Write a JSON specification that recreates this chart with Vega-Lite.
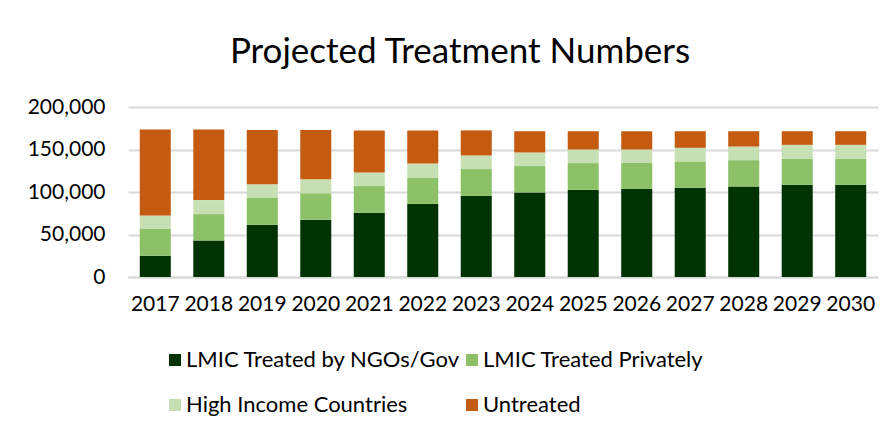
{
  "$schema": "https://vega.github.io/schema/vega-lite/v6.json",
  "width": 750,
  "height": 170,
  "autosize": "none",
  "padding": {"left": 128, "top": 107, "right": 18, "bottom": 158},
  "background": "white",
  "title": {
    "text": "Projected Treatment Numbers",
    "font": "Lato",
    "fontSize": 35,
    "fontWeight": "normal",
    "color": "#000000",
    "anchor": "middle",
    "dx": -43,
    "offset": 26
  },
  "data": {
    "values": [
      {"year": "2017", "category": "LMIC Treated by NGOs/Gov", "k": 1, "value": 25000},
      {"year": "2017", "category": "LMIC Treated Privately", "k": 2, "value": 31500},
      {"year": "2017", "category": "High Income Countries", "k": 3, "value": 16000},
      {"year": "2017", "category": "Untreated", "k": 4, "value": 101000},
      {"year": "2018", "category": "LMIC Treated by NGOs/Gov", "k": 1, "value": 43000},
      {"year": "2018", "category": "LMIC Treated Privately", "k": 2, "value": 31000},
      {"year": "2018", "category": "High Income Countries", "k": 3, "value": 16500},
      {"year": "2018", "category": "Untreated", "k": 4, "value": 83000},
      {"year": "2019", "category": "LMIC Treated by NGOs/Gov", "k": 1, "value": 61500},
      {"year": "2019", "category": "LMIC Treated Privately", "k": 2, "value": 31500},
      {"year": "2019", "category": "High Income Countries", "k": 3, "value": 16000},
      {"year": "2019", "category": "Untreated", "k": 4, "value": 64000},
      {"year": "2020", "category": "LMIC Treated by NGOs/Gov", "k": 1, "value": 67500},
      {"year": "2020", "category": "LMIC Treated Privately", "k": 2, "value": 31000},
      {"year": "2020", "category": "High Income Countries", "k": 3, "value": 16500},
      {"year": "2020", "category": "Untreated", "k": 4, "value": 58000},
      {"year": "2021", "category": "LMIC Treated by NGOs/Gov", "k": 1, "value": 75500},
      {"year": "2021", "category": "LMIC Treated Privately", "k": 2, "value": 31500},
      {"year": "2021", "category": "High Income Countries", "k": 3, "value": 16000},
      {"year": "2021", "category": "Untreated", "k": 4, "value": 49500},
      {"year": "2022", "category": "LMIC Treated by NGOs/Gov", "k": 1, "value": 86000},
      {"year": "2022", "category": "LMIC Treated Privately", "k": 2, "value": 31000},
      {"year": "2022", "category": "High Income Countries", "k": 3, "value": 16500},
      {"year": "2022", "category": "Untreated", "k": 4, "value": 39000},
      {"year": "2023", "category": "LMIC Treated by NGOs/Gov", "k": 1, "value": 95500},
      {"year": "2023", "category": "LMIC Treated Privately", "k": 2, "value": 31500},
      {"year": "2023", "category": "High Income Countries", "k": 3, "value": 16000},
      {"year": "2023", "category": "Untreated", "k": 4, "value": 29500},
      {"year": "2024", "category": "LMIC Treated by NGOs/Gov", "k": 1, "value": 99500},
      {"year": "2024", "category": "LMIC Treated Privately", "k": 2, "value": 31000},
      {"year": "2024", "category": "High Income Countries", "k": 3, "value": 16000},
      {"year": "2024", "category": "Untreated", "k": 4, "value": 25000},
      {"year": "2025", "category": "LMIC Treated by NGOs/Gov", "k": 1, "value": 102500},
      {"year": "2025", "category": "LMIC Treated Privately", "k": 2, "value": 31500},
      {"year": "2025", "category": "High Income Countries", "k": 3, "value": 16000},
      {"year": "2025", "category": "Untreated", "k": 4, "value": 21500},
      {"year": "2026", "category": "LMIC Treated by NGOs/Gov", "k": 1, "value": 103500},
      {"year": "2026", "category": "LMIC Treated Privately", "k": 2, "value": 30500},
      {"year": "2026", "category": "High Income Countries", "k": 3, "value": 16000},
      {"year": "2026", "category": "Untreated", "k": 4, "value": 21500},
      {"year": "2027", "category": "LMIC Treated by NGOs/Gov", "k": 1, "value": 105000},
      {"year": "2027", "category": "LMIC Treated Privately", "k": 2, "value": 31000},
      {"year": "2027", "category": "High Income Countries", "k": 3, "value": 16000},
      {"year": "2027", "category": "Untreated", "k": 4, "value": 19500},
      {"year": "2028", "category": "LMIC Treated by NGOs/Gov", "k": 1, "value": 106500},
      {"year": "2028", "category": "LMIC Treated Privately", "k": 2, "value": 31000},
      {"year": "2028", "category": "High Income Countries", "k": 3, "value": 16000},
      {"year": "2028", "category": "Untreated", "k": 4, "value": 18000},
      {"year": "2029", "category": "LMIC Treated by NGOs/Gov", "k": 1, "value": 108500},
      {"year": "2029", "category": "LMIC Treated Privately", "k": 2, "value": 30500},
      {"year": "2029", "category": "High Income Countries", "k": 3, "value": 16500},
      {"year": "2029", "category": "Untreated", "k": 4, "value": 16000},
      {"year": "2030", "category": "LMIC Treated by NGOs/Gov", "k": 1, "value": 108500},
      {"year": "2030", "category": "LMIC Treated Privately", "k": 2, "value": 30500},
      {"year": "2030", "category": "High Income Countries", "k": 3, "value": 16500},
      {"year": "2030", "category": "Untreated", "k": 4, "value": 16000}
    ]
  },
  "mark": {"type": "bar"},
  "encoding": {
    "x": {
      "field": "year",
      "type": "ordinal",
      "scale": {"paddingInner": 0.42, "paddingOuter": 0.22},
      "axis": {
        "title": null,
        "labelAngle": 0,
        "labelFont": "Lato",
        "labelFontSize": 21,
        "labelColor": "#000000",
        "labelPadding": 16,
        "ticks": false,
        "domainColor": "#d9d9d9",
        "domainWidth": 2
      }
    },
    "y": {
      "field": "value",
      "type": "quantitative",
      "stack": "zero",
      "scale": {"domain": [0, 200000], "nice": false},
      "axis": {
        "title": null,
        "values": [0, 50000, 100000, 150000, 200000],
        "format": ",.0f",
        "labelFont": "Lato",
        "labelFontSize": 21,
        "labelColor": "#000000",
        "labelPadding": 23,
        "ticks": false,
        "domain": false,
        "gridColor": "#d9d9d9",
        "gridWidth": 2
      }
    },
    "color": {
      "field": "category",
      "type": "nominal",
      "sort": ["LMIC Treated by NGOs/Gov", "LMIC Treated Privately", "High Income Countries", "Untreated"],
      "scale": {
        "domain": ["LMIC Treated by NGOs/Gov", "LMIC Treated Privately", "High Income Countries", "Untreated"],
        "range": ["#013201", "#8cc168", "#c6e0b4", "#c55a11"]
      },
      "legend": {
        "title": null,
        "orient": "none",
        "legendX": 36,
        "legendY": 242,
        "direction": "horizontal",
        "columns": 2,
        "columnPadding": 0,
        "rowPadding": 23,
        "padding": 0,
        "symbolType": "square",
        "symbolSize": 144,
        "symbolStrokeWidth": 0,
        "labelFont": "Lato",
        "labelFontSize": 22,
        "labelColor": "#000000",
        "labelOffset": 0,
        "labelLimit": 400
      }
    },
    "order": {"field": "k", "type": "quantitative"}
  },
  "config": {
    "view": {"stroke": null}
  }
}
